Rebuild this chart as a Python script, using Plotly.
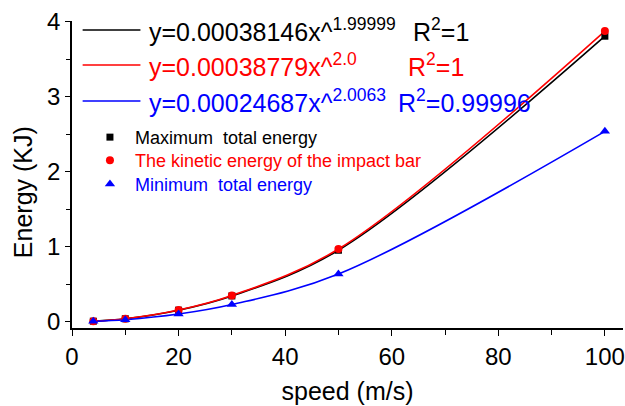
import plotly.graph_objects as go

speed = [4, 10, 20, 30, 50, 100]
max_total = [0.006, 0.038, 0.153, 0.343, 0.953, 3.81]
kinetic = [0.0062, 0.039, 0.155, 0.349, 0.969, 3.878]
min_total = [0.004, 0.025, 0.101, 0.228, 0.635, 2.54]

fit_eqs = [
    "y=0.00038146x^<sup>1.99999</sup>",
    "y=0.00038779x^<sup>2.0</sup>",
    "y=0.00024687x^<sup>2.0063</sup>",
]
fit_r2 = ["R<sup>2</sup>=1", "R<sup>2</sup>=1", "R<sup>2</sup>=0.99996"]
series_names = [
    "Maximum&nbsp;&nbsp;total energy",
    "The kinetic energy of the impact bar",
    "Minimum&nbsp;&nbsp;total energy",
]
colors = ["#000000", "#ff0000", "#0000ff"]
symbols = ["square", "circle", "triangle-up"]
sizes = [7, 8, 9]
series = [max_total, kinetic, min_total]

# legend layout (paper coordinates)
row_y = [0.9707, 0.8567, 0.7394]
r2_x = [0.6161, 0.6058, 0.5877]
marker_leg_y = [0.681, 0.606, 0.528]
legend_ids = ["legend2", "legend3", "legend4"]

font_family = "Liberation Sans, Arial, sans-serif"

fig = go.Figure()
for i in range(3):
    fig.add_trace(go.Scatter(
        x=speed, y=series[i], mode="lines",
        line=dict(color=colors[i], width=1.6, shape="spline"),
        showlegend=False, hoverinfo="skip",
    ))
for i in range(3):
    fig.add_trace(go.Scatter(
        x=speed, y=series[i], mode="markers",
        marker=dict(color=colors[i], symbol=symbols[i], size=sizes[i]),
        name=f'<span style="color:{colors[i]}">{series_names[i]}</span>',
        legend=legend_ids[i],
    ))

shapes = []
annotations = []
for i in range(3):
    shapes.append(dict(type="line", xref="paper", yref="paper",
                       x0=0.0193, x1=0.1242, y0=row_y[i], y1=row_y[i],
                       line=dict(color=colors[i], width=1.6)))
    annotations.append(dict(xref="paper", yref="paper", x=0.1356, y=row_y[i] + 0.001,
                            xanchor="left", yanchor="middle", showarrow=False,
                            text=fit_eqs[i], font=dict(size=25, color=colors[i], family=font_family)))
    annotations.append(dict(xref="paper", yref="paper", x=r2_x[i], y=row_y[i] + 0.001,
                            xanchor="left", yanchor="middle", showarrow=False,
                            text=fit_r2[i], font=dict(size=25, color=colors[i], family=font_family)))

annotations.append(dict(xref="paper", yref="paper", x=-0.0886, y=0.443,
                        xanchor="center", yanchor="middle", showarrow=False, textangle=-90,
                        text="Energy (KJ)", font=dict(size=25, color="black", family=font_family)))

legend_common = dict(xanchor="left", yanchor="top", font=dict(size=18, family=font_family),
                     bgcolor="rgba(0,0,0,0)", borderwidth=0, itemwidth=40)
legend_layout = {}
for i in range(3):
    legend_layout[legend_ids[i]] = dict(x=0.0235, y=marker_leg_y[i], **legend_common)

fig.update_layout(
    width=625, height=406,
    margin=dict(l=72, r=0, t=21, b=78),
    paper_bgcolor="white", plot_bgcolor="white",
    font=dict(family=font_family, color="black", size=24),
    shapes=shapes, annotations=annotations,
    xaxis=dict(
        range=[0, 103.4], tickvals=[0, 20, 40, 60, 80, 100],
        ticks="outside", ticklen=6, tickwidth=1.2, tickcolor="black",
        minor=dict(dtick=10, tick0=0, ticks="outside", ticklen=5, tickwidth=1.2, tickcolor="black"),
        showline=True, linecolor="black", linewidth=1.5,
        showgrid=False, zeroline=False,
        tickfont=dict(size=24), ticklabeloverflow="allow",
        title=dict(text="speed (m/s)", font=dict(size=25), standoff=14),
    ),
    yaxis=dict(
        range=[-0.085, 4.013], tickvals=[0, 1, 2, 3, 4],
        ticks="outside", ticklen=5, tickwidth=1.2, tickcolor="black",
        minor=dict(dtick=0.5, tick0=0, ticks="outside", ticklen=4, tickwidth=1.2, tickcolor="black"),
        showline=True, linecolor="black", linewidth=1.5,
        showgrid=False, zeroline=False,
        tickfont=dict(size=24),
    ),
    **legend_layout,
)

fig.write_html("out.html")
